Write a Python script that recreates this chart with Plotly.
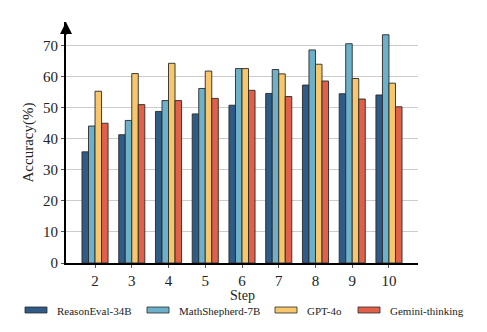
import plotly.graph_objects as go

steps = ["2", "3", "4", "5", "6", "7", "8", "9", "10"]
reasoneval = [35.8, 41.3, 48.8, 48.0, 50.8, 54.6, 57.3, 54.5, 54.1]
mathshepherd = [44.1, 45.9, 52.3, 56.2, 62.6, 62.3, 68.6, 70.6, 73.5]
gpt4o = [55.3, 61.0, 64.3, 61.8, 62.6, 60.9, 64.0, 59.4, 57.9]
gemini = [45.0, 51.0, 52.3, 53.0, 55.6, 53.6, 58.6, 52.8, 50.3]

series_names = ["ReasonEval-34B", "MathShepherd-7B", "GPT-4o", "Gemini-thinking"]
series_values = [reasoneval, mathshepherd, gpt4o, gemini]
series_colors = ["#2f5b86", "#6cb1c9", "#f6c76b", "#e0604a"]

font_family = "Liberation Serif, Times New Roman, serif"
W, H = 487, 332
L, R, T, B = 66, 69, 22, 69
PW, PH = W - L - R, H - T - B


def px(x):
    return (x - L) / PW


def py(y):
    return (H - B - y) / PH


fig = go.Figure()
for name, vals, color in zip(series_names, series_values, series_colors):
    fig.add_trace(go.Bar(
        x=steps, y=vals, name=name, showlegend=False,
        marker=dict(color=color, line=dict(color="#2a2a2a", width=0.9)),
    ))

fig.update_layout(
    width=W, height=H,
    margin=dict(l=L, r=R, t=T, b=B, autoexpand=False),
    paper_bgcolor="white", plot_bgcolor="white",
    barmode="group", bargap=0.29, bargroupgap=0.0,
    font=dict(family=font_family, size=15, color="#222"),
    showlegend=False,
    xaxis=dict(
        showline=True, linecolor="black", linewidth=2,
        ticks="outside", ticklen=3, tickcolor="#555", tickwidth=1,
        showgrid=False, range=[-0.79, 8.79],
        tickfont=dict(size=15),
    ),
    yaxis=dict(
        title=dict(text="Accuracy(%)", font=dict(size=15), standoff=6),
        showline=True, linecolor="black", linewidth=2,
        range=[0, 77.6], tickvals=[0, 10, 20, 30, 40, 50, 60, 70],
        ticks="outside", ticklen=3, tickcolor="#555", tickwidth=1,
        gridcolor="#cccccc", gridwidth=1,
        tickfont=dict(size=15), zeroline=False,
    ),
)

# x-axis title
fig.add_annotation(xref="paper", yref="paper", x=0.5, y=py(295),
                   xanchor="center", yanchor="middle", showarrow=False,
                   text="Step", font=dict(size=14, family=font_family, color="#222"))

# arrow on top of the y axis
fig.add_annotation(
    xref="paper", yref="paper", x=0, y=1.0, ax=0, ay=14,
    showarrow=True, arrowhead=2, arrowsize=1.2, arrowwidth=2, arrowcolor="black", text="",
)

# legend (drawn manually to match flat rectangular swatches)
legend_x = [25, 147, 275, 358]
y0, y1 = 307, 313
for lx, name, color in zip(legend_x, series_names, series_colors):
    fig.add_shape(type="rect", xref="paper", yref="paper",
                  x0=px(lx), x1=px(lx + 22), y0=py(y1), y1=py(y0),
                  fillcolor=color, line=dict(color="#2a2a2a", width=0.8))
    fig.add_annotation(xref="paper", yref="paper", x=px(lx + 30), y=py(311),
                       xanchor="left", yanchor="middle", showarrow=False,
                       text=name, font=dict(size=11, family=font_family, color="#222"))

fig.write_html("out.html")
